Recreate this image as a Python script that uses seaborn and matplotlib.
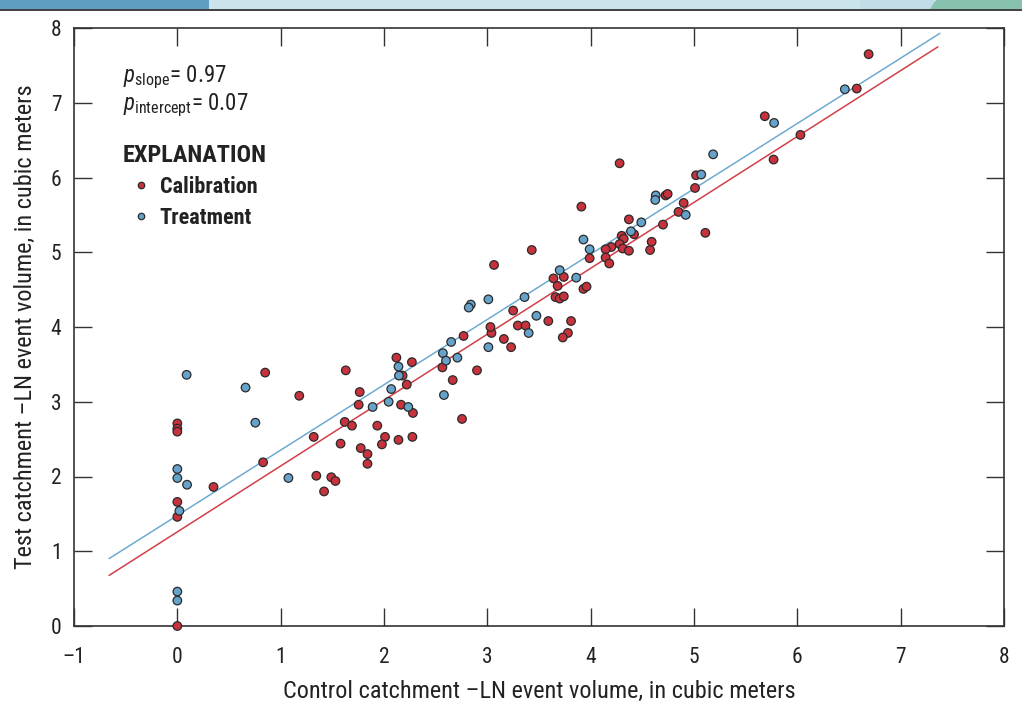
import numpy as np
import pandas as pd
import seaborn as sns
import matplotlib
matplotlib.use("Agg")
import matplotlib.pyplot as plt
from matplotlib import font_manager as fm
from matplotlib.patches import Rectangle, Polygon

# ---------------- data ----------------
cal_x = [0.85, 1.18, 0.0, 0.0, 0.0, 1.32, 1.62, 1.58, 0.35, 0.83, 1.345, 1.49, 1.53, 1.42,
         0.0, 0.0, 0.0,
         1.63, 1.765, 1.755, 1.69, 1.775, 1.84, 1.84, 1.935, 2.01, 1.98, 2.12, 2.27, 2.18,
         2.22, 2.165, 2.28, 2.14, 2.275,
         2.77, 2.565, 2.665, 2.90, 2.755, 3.04, 3.16, 3.23, 3.03,
         3.91, 4.90, 4.85, 5.11, 4.37, 4.70, 4.42, 4.30, 4.32, 4.28, 4.31, 4.37, 4.59, 4.575,
         4.20, 4.145, 4.145, 4.18, 3.99, 3.64, 3.74, 3.68, 3.93, 3.96, 3.66, 3.70, 3.74,
         3.43, 3.065, 3.25, 3.59, 3.81, 3.295, 3.37, 3.78, 3.73,
         6.69, 6.575, 5.685, 6.03, 5.77, 5.02, 5.01, 4.725, 4.745, 4.28]
cal_y = [3.39, 3.08, 2.71, 2.64, 2.60, 2.53, 2.73, 2.44, 1.86, 2.19, 2.01, 1.99, 1.94, 1.80,
         1.66, 1.46, 0.0,
         3.42, 3.13, 2.96, 2.68, 2.38, 2.30, 2.17, 2.68, 2.53, 2.43, 3.59, 3.53, 3.35,
         3.23, 2.96, 2.85, 2.49, 2.53,
         3.88, 3.46, 3.29, 3.42, 2.77, 3.92, 3.84, 3.73, 4.00,
         5.61, 5.66, 5.54, 5.26, 5.44, 5.37, 5.24, 5.22, 5.18, 5.11, 5.05, 5.02, 5.14, 5.03,
         5.07, 5.04, 4.93, 4.85, 4.92, 4.65, 4.67, 4.55, 4.51, 4.54, 4.40, 4.38, 4.41,
         5.03, 4.83, 4.22, 4.08, 4.08, 4.02, 4.02, 3.92, 3.86,
         7.65, 7.19, 6.82, 6.57, 6.24, 6.03, 5.86, 5.76, 5.78, 6.19]

trt_x = [0.09, 0.66, 0.755, 0.0, 0.0, 0.094, 1.075, 0.02, 0.0, 0.0,
         1.89, 2.045, 2.07, 2.14, 2.145, 2.235, 2.57, 2.65, 2.60, 2.71, 2.58, 3.01,
         4.63, 4.625, 4.92, 4.49, 4.39, 3.93, 3.99, 3.86, 3.70, 3.01, 2.84, 2.82, 3.36,
         3.475, 3.40,
         6.46, 5.775, 5.185, 5.07]
trt_y = [3.36, 3.19, 2.72, 2.10, 1.98, 1.89, 1.98, 1.54, 0.46, 0.34,
         2.93, 3.00, 3.17, 3.47, 3.35, 2.93, 3.65, 3.80, 3.55, 3.59, 3.09, 3.73,
         5.76, 5.70, 5.50, 5.40, 5.28, 5.17, 5.04, 4.66, 4.76, 4.37, 4.30, 4.26, 4.40,
         4.15, 3.92,
         7.18, 6.73, 6.31, 6.04]

groups = ["Calibration", "Treatment"]
fit_slope = [0.8816, 0.874]
fit_intercept = [1.259, 1.479]
fit_xmin = [-0.66, -0.66]
fit_xmax = [7.36, 7.38]

x_ticks = list(range(-1, 9))
y_ticks = list(range(0, 9))
p_slope = "0.97"
p_intercept = "0.07"

x_label = "Control catchment \u2013LN event volume, in cubic meters"
y_label = "Test catchment \u2013LN event volume, in cubic meters"
legend_title = "EXPLANATION"

# ---------------- font: prefer a condensed sans if one is installed ----------------
sns.set_theme(style="white")

FAMILY = "DejaVu Sans"
STRETCH = "normal"
cands = []
for f in fm.fontManager.ttflist:
    low = (f.name + " " + str(f.fname)).lower()
    if "narrow" in low or "condensed" in low or str(f.stretch) in ("condensed", "semi-condensed", "extra-condensed"):
        cands.append(f)
pref = ["roboto condensed", "liberation sans narrow", "open sans condensed",
        "noto sans", "dejavu sans"]
chosen = None
for p in pref:
    for f in cands:
        if f.name.lower().startswith(p):
            chosen = f
            break
    if chosen is not None:
        break
if chosen is None and cands:
    chosen = cands[0]
if chosen is not None:
    FAMILY = chosen.name
    st = str(chosen.stretch)
    if "condensed" in st or "condensed" in str(chosen.fname).lower():
        STRETCH = "condensed"

FONT = [FAMILY, "DejaVu Sans"]
plt.rcParams["font.family"] = FONT
plt.rcParams["font.stretch"] = STRETCH
plt.rcParams["mathtext.fontset"] = "custom"
plt.rcParams["mathtext.rm"] = FAMILY
plt.rcParams["mathtext.it"] = FAMILY + ":italic"
plt.rcParams["mathtext.bf"] = FAMILY + ":bold"

RED = "#c8323d"
BLUE = "#66a3cb"
RED_LINE = "#d23f48"
BLUE_LINE = "#6eaad0"
INK = "#222222"

fig = plt.figure(figsize=(10.22, 7.07), dpi=100)
ax = fig.add_axes([74 / 1022, 81 / 707, 930 / 1022, 598 / 707])

# fitted lines
line_rows = []
for g, m, b, x0, x1 in zip(groups, fit_slope, fit_intercept, fit_xmin, fit_xmax):
    for xv in (x0, x1):
        line_rows.append({"group": g, "x": xv, "y": b + m * xv})
lines_df = pd.DataFrame(line_rows)
sns.lineplot(data=lines_df, x="x", y="y", hue="group", hue_order=groups,
             palette=[RED_LINE, BLUE_LINE], linewidth=1.1, legend=False, ax=ax, zorder=2)

# points
pts = pd.DataFrame({
    "x": cal_x + trt_x,
    "y": cal_y + trt_y,
    "group": ["Calibration"] * len(cal_x) + ["Treatment"] * len(trt_x),
})
sns.scatterplot(data=pts, x="x", y="y", hue="group", hue_order=groups,
                palette=[RED, BLUE], s=38, edgecolor="#2a2a2a", linewidth=0.9,
                clip_on=False, zorder=3, ax=ax)

ax.set_xlim(-1, 8)
ax.set_ylim(0, 8)
ax.set_xticks(x_ticks)
ax.set_yticks(y_ticks)
ax.set_xticklabels([str(t).replace("-", "\u2013") for t in x_ticks])
ax.set_yticklabels([str(t) for t in y_ticks])
ax.tick_params(axis="both", which="both", direction="in", length=13, width=1.0,
               color="#333333", labelsize=15.5, labelcolor=INK,
               top=True, right=True, bottom=True, left=True)
ax.tick_params(axis="x", pad=15)
ax.tick_params(axis="y", pad=9)
for sp in ax.spines.values():
    sp.set_color("#333333")
    sp.set_linewidth(1.2)

ax.set_xlabel(x_label, fontsize=17.5, color=INK, labelpad=9)
ax.set_ylabel(y_label, fontsize=17.5, color=INK, labelpad=10)

# p-values
ax.text(0.0527, 0.918, r"$\mathit{p}_{\mathrm{slope}}$= " + p_slope, transform=ax.transAxes,
        fontsize=16.5, color=INK, va="center", ha="left")
ax.text(0.0527, 0.871, r"$\mathit{p}_{\mathrm{intercept}}$= " + p_intercept, transform=ax.transAxes,
        fontsize=16.5, color=INK, va="center", ha="left")

# legend
handles, labels = ax.get_legend_handles_labels()
leg = ax.legend(handles, labels, title=legend_title, loc="upper left",
                bbox_to_anchor=(0.0527, 0.806), frameon=False,
                prop={"weight": "bold", "size": 16, "family": FONT, "stretch": STRETCH},
                title_fontproperties={"weight": "bold", "size": 17.5, "family": FONT,
                                      "stretch": STRETCH},
                alignment="left", handlelength=1.6, handletextpad=0.05,
                labelspacing=0.4, borderpad=0.0, borderaxespad=0.0, markerscale=0.75)
for t in leg.get_texts():
    t.set_color(INK)
leg.get_title().set_color(INK)

# top page banner (decorative)
H = 9 / 707
fig.add_artist(Rectangle((0, 1 - H), 209 / 1022, H, transform=fig.transFigure,
                         facecolor="#5f9dc1", edgecolor="none"))
fig.add_artist(Rectangle((209 / 1022, 1 - H), (860 - 209) / 1022, H, transform=fig.transFigure,
                         facecolor="#cbe3eb", edgecolor="none"))
fig.add_artist(Rectangle((860 / 1022, 1 - H), (935 - 860) / 1022, H, transform=fig.transFigure,
                         facecolor="#c2dde7", edgecolor="none"))
fig.add_artist(Polygon([(930 / 1022, 1 - H), (936 / 1022, 1.0), (1.0, 1.0), (1.0, 1 - H)],
                       closed=True, transform=fig.transFigure,
                       facecolor="#86c2ad", edgecolor="none"))
fig.add_artist(Rectangle((0, 1 - H - 1.5 / 707), 1.0, 1.5 / 707, transform=fig.transFigure,
                         facecolor="#444444", edgecolor="none"))

fig.savefig("out.png", dpi=100)
